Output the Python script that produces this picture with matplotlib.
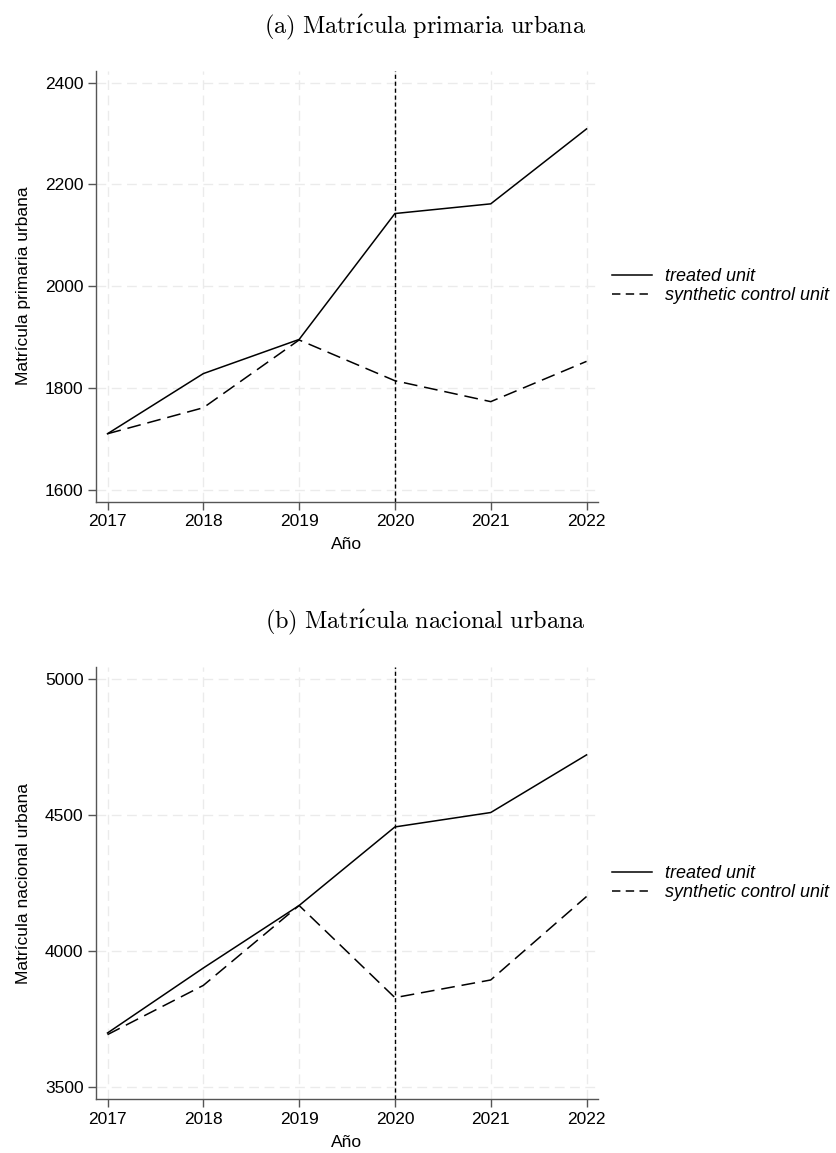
import numpy as np
import matplotlib
matplotlib.use("Agg")
from matplotlib import pyplot
from matplotlib.lines import Line2D

pyplot.rcParams['font.family'] = ['Liberation Sans', 'DejaVu Sans']
pyplot.rcParams['mathtext.fontset'] = 'cm'

# panel data
years = [2017, 2018, 2019, 2020, 2021, 2022]

primaria_treated   = [1711, 1829, 1896, 2143, 2162, 2309]
primaria_synthetic = [1711, 1762, 1895, 1815, 1774, 1853]

nacional_treated   = [3699, 3938, 4168, 4457, 4510, 4722]
nacional_synthetic = [3693, 3874, 4168, 3829, 3894, 4201]

primaria_ticks = [1600, 1800, 2000, 2200, 2400]
nacional_ticks = [3500, 4000, 4500, 5000]

treatment_year = 2020
legend_labels  = ["treated unit", "synthetic control unit"]

grid_color  = "#ebebeb"
spine_color = "#555555"
label_size  = 12.5

fig = pyplot.figure(figsize=(8.37, 11.53), dpi=100)


def draw_panel(ax, treated, synthetic, yticks, ylim, ylabel):
    for yt in yticks:
        ax.axhline(yt, color=grid_color, linewidth=1.0, linestyle=(0, (7, 4)), zorder=0)
    for xt in years:
        ax.axvline(xt, color=grid_color, linewidth=1.0, linestyle=(0, (7, 4)), zorder=0)

    ax.plot(years, treated, color="black", linewidth=1.1, solid_joinstyle="miter", zorder=3)
    ax.plot(years, synthetic, color="black", linewidth=1.1, linestyle=(0, (9, 4.5)), zorder=3)
    ax.axvline(treatment_year, color="black", linewidth=1.0, linestyle=(0, (3, 2)), zorder=2)

    ax.set_xlim(2016.88, 2022.12)
    ax.set_ylim(*ylim)
    ax.set_xticks(years)
    ax.set_yticks(yticks)
    ax.tick_params(axis="both", direction="out", length=6, width=1.0, color=spine_color,
                   labelsize=label_size, pad=3)

    for side in ["top", "right"]:
        ax.spines[side].set_visible(False)
    for side in ["left", "bottom"]:
        ax.spines[side].set_color(spine_color)
        ax.spines[side].set_linewidth(1.0)

    ax.set_xlabel("Año", fontsize=label_size, labelpad=6)
    ax.set_ylabel(ylabel, fontsize=label_size, labelpad=10)

    handles = [Line2D([0], [0], color="black", linewidth=1.1),
               Line2D([0], [0], color="black", linewidth=1.1, linestyle=(0, (5.5, 3.5)))]
    ax.legend(handles, legend_labels, loc="center left", bbox_to_anchor=(1.0, 0.5),
              frameon=False, prop={"style": "italic", "size": 13},
              handlelength=2.2, handletextpad=0.7, labelspacing=0.12,
              borderpad=0.0, borderaxespad=0.8)


ax1 = fig.add_axes([0.1147, 0.5650, 0.5998, 0.3736])
draw_panel(ax1, primaria_treated, primaria_synthetic, primaria_ticks,
           (1578, 2423), "Matrícula primaria urbana")

ax2 = fig.add_axes([0.1147, 0.0468, 0.5998, 0.3744])
draw_panel(ax2, nacional_treated, nacional_synthetic, nacional_ticks,
           (3456, 5044), "Matrícula nacional urbana")

fig.text(0.508, 1 - 26.7 / 1153, r"$\mathrm{(a)\ Matr\'{\i}cula\ primaria\ urbana}$",
         ha="center", va="center", fontsize=17.5)
fig.text(0.508, 1 - 621.7 / 1153, r"$\mathrm{(b)\ Matr\'{\i}cula\ nacional\ urbana}$",
         ha="center", va="center", fontsize=17.5)

fig.savefig("out.png", dpi=100)
